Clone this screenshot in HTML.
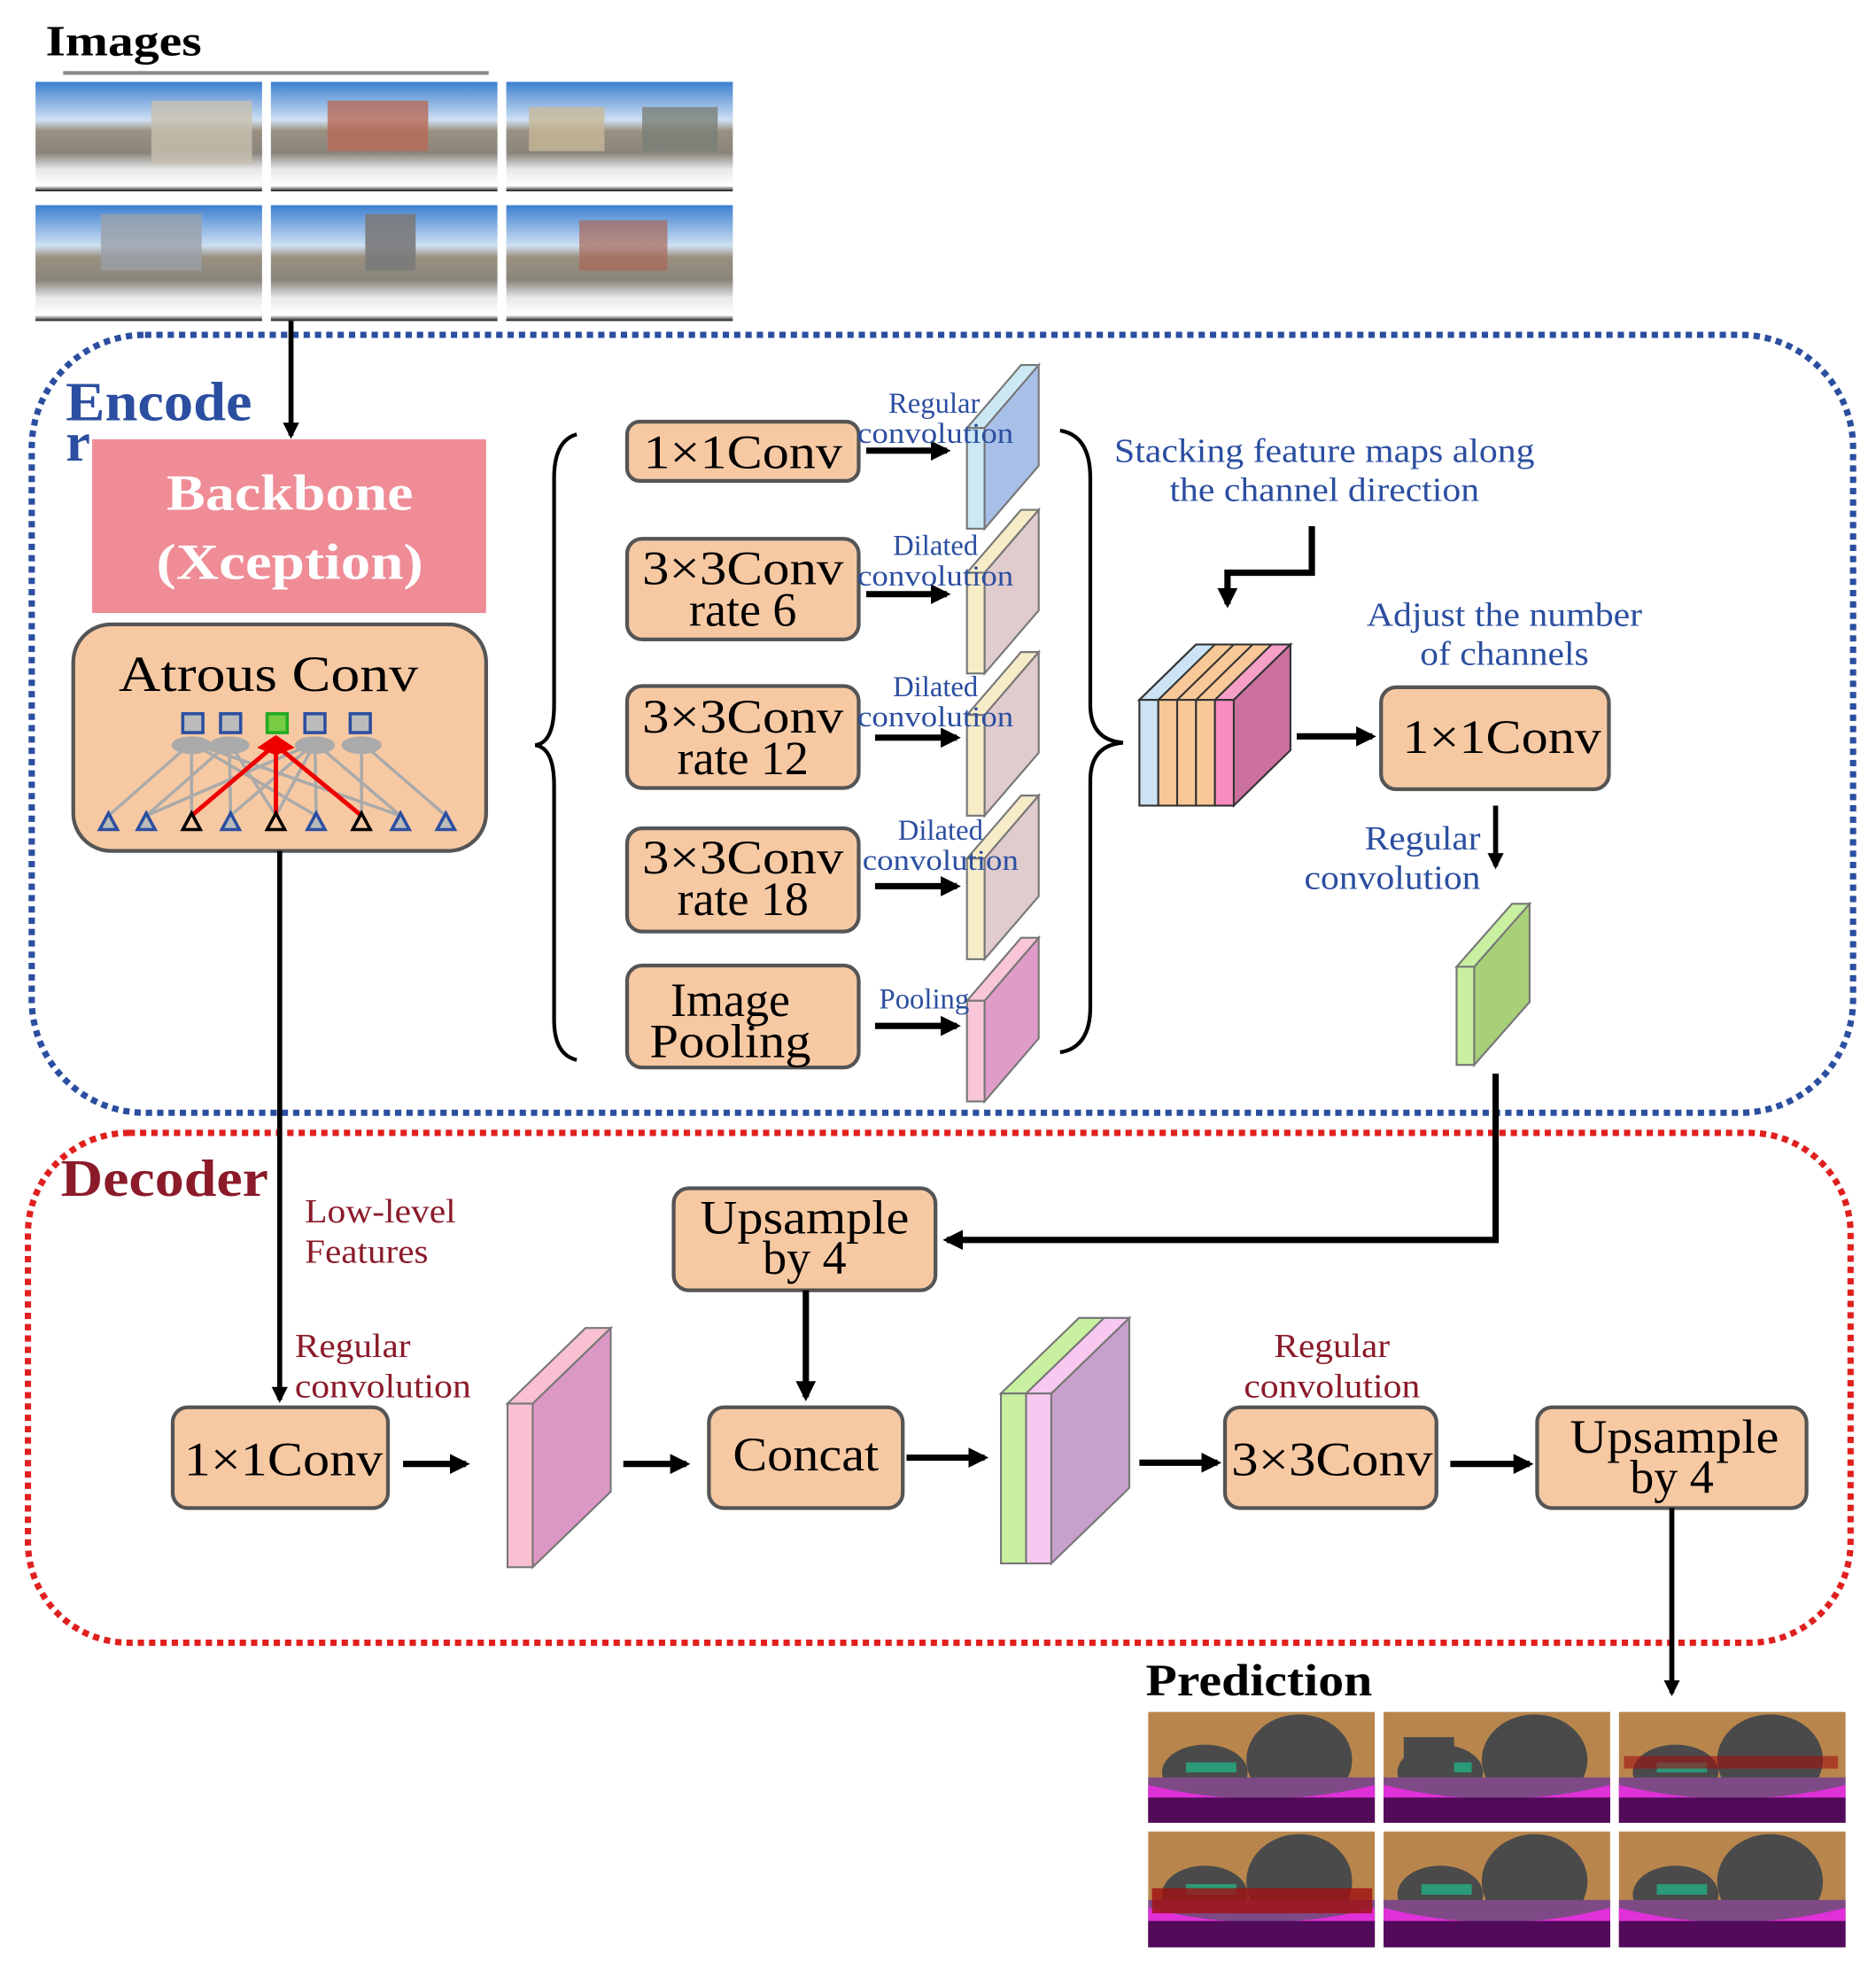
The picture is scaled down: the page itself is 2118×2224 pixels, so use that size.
<!DOCTYPE html>
<html><head><meta charset="utf-8"><style>
html,body{margin:0;padding:0;background:#fff}
svg{display:block}
text{font-family:"Liberation Serif",serif}
</style></head><body>
<svg width="2118" height="2224" viewBox="0 0 1490 1565" xmlns="http://www.w3.org/2000/svg">
<defs>
<marker id="ah" viewBox="0 0 10 10" refX="8" refY="5" markerWidth="3.2" markerHeight="3.2" orient="auto" markerUnits="strokeWidth"><path d="M0,0 L10,5 L0,10 z" fill="#000"/></marker>
<linearGradient id="sky" x1="0" y1="0" x2="0" y2="1"><stop offset="0" stop-color="#3d7fd0"/><stop offset="0.35" stop-color="#cfe0f2"/><stop offset="0.45" stop-color="#9a9080"/><stop offset="0.65" stop-color="#8a857c"/><stop offset="0.8" stop-color="#e8e8ea"/><stop offset="0.95" stop-color="#ffffff"/><stop offset="1" stop-color="#111"/></linearGradient>
<g id="seg">
<rect width="180" height="88" fill="#b8864c"/>
<ellipse cx="120" cy="38" rx="42" ry="36" fill="#4a4a4a"/>
<ellipse cx="45" cy="48" rx="34" ry="22" fill="#4a4a4a"/>
<rect x="0" y="52" width="180" height="36" fill="#7e4a86"/>
<path d="M0,58 Q90,80 180,58 L180,70 Q90,92 0,70z" fill="#e030d8"/>
<rect x="0" y="68" width="180" height="20" fill="#520a5a"/>
<rect x="30" y="40" width="40" height="8" fill="#2a9a78"/>
</g>
</defs>

<text x="36" y="44" font-size="34" font-weight="bold" textLength="124" lengthAdjust="spacingAndGlyphs">Images</text>
<line x1="50" y1="58" x2="388" y2="58" stroke="#888" stroke-width="3"/>
<g>
<rect x="28" y="65" width="180" height="87" fill="url(#sky)"/>
<rect x="215" y="65" width="180" height="87" fill="url(#sky)"/>
<rect x="402" y="65" width="180" height="87" fill="url(#sky)"/>
<rect x="28" y="163" width="180" height="92" fill="url(#sky)"/>
<rect x="215" y="163" width="180" height="92" fill="url(#sky)"/>
<rect x="402" y="163" width="180" height="92" fill="url(#sky)"/>
<rect x="120" y="80" width="80" height="50" fill="#c8c0b0" opacity="0.8"/>
<rect x="260" y="80" width="80" height="40" fill="#b86a58" opacity="0.8"/>
<rect x="420" y="85" width="60" height="35" fill="#c8b898" opacity="0.8"/>
<rect x="510" y="85" width="60" height="35" fill="#7a8078" opacity="0.8"/>
<rect x="80" y="170" width="80" height="45" fill="#9aa0a8" opacity="0.8"/>
<rect x="290" y="170" width="40" height="45" fill="#7a7a7a" opacity="0.9"/>
<rect x="460" y="175" width="70" height="40" fill="#a86858" opacity="0.7"/>
</g>

<rect x="25" y="266" width="1447" height="618" rx="90" fill="none" stroke="#2b4ea0" stroke-width="5" stroke-dasharray="5,4"/>
<text x="52" y="334" font-size="44" font-weight="bold" fill="#2b4ea0" textLength="148" lengthAdjust="spacingAndGlyphs">Encode</text>
<text x="52" y="366" font-size="44" font-weight="bold" fill="#2b4ea0">r</text>

<line x1="231" y1="255" x2="231" y2="346" stroke="#000" stroke-width="4" marker-end="url(#ah)"/>

<rect x="73" y="349" width="313" height="138" fill="#ef8c96"/>
<text x="230" y="405" font-size="40" font-weight="bold" fill="#fff" text-anchor="middle" textLength="196" lengthAdjust="spacingAndGlyphs">Backbone</text>
<text x="230" y="460" font-size="40" font-weight="bold" fill="#fff" text-anchor="middle" textLength="212" lengthAdjust="spacingAndGlyphs">(Xception)</text>

<rect x="58" y="496" width="328" height="180" rx="30" fill="#f7c9a3" stroke="#555" stroke-width="3"/>
<text x="213" y="549" font-size="40" text-anchor="middle" textLength="238" lengthAdjust="spacingAndGlyphs">Atrous Conv</text>
<g stroke="#aaa" stroke-width="2.5" fill="none">
<path d="M86,648 L152,590 M116,648 L182,590 M152,648 L152,590 M183,648 L182,590 M183,648 L250,590 M219,648 L182,590 M219,648 L250,590 M251,648 L250,590 M251,648 L152,590 M287,648 L287,590 M318,648 L250,590 M354,648 L287,590 M116,648 L250,590 M318,648 L152,590"/>
</g>
<g fill="#aaa"><ellipse cx="152" cy="592" rx="16" ry="7"/><ellipse cx="182" cy="592" rx="16" ry="7"/><ellipse cx="250" cy="592" rx="16" ry="7"/><ellipse cx="287" cy="592" rx="16" ry="7"/></g>
<g stroke="#e00" stroke-width="3.5"><line x1="152" y1="648" x2="218" y2="592"/><line x1="219" y1="648" x2="219" y2="592"/><line x1="287" y1="648" x2="219" y2="592"/></g>
<path d="M204,594 L219,584 L234,594 L219,600z" fill="#e00"/>
<g stroke="#2b4ea0" stroke-width="2.5" fill="#bbb">
<rect x="145" y="567" width="16" height="15"/><rect x="175" y="567" width="16" height="15"/><rect x="242" y="567" width="16" height="15"/><rect x="278" y="567" width="16" height="15"/>
</g>
<rect x="212" y="567" width="16" height="15" fill="#7c4" stroke="#2a2" stroke-width="2.5"/>
<g stroke="#2b4ea0" stroke-width="2.5" fill="#bbb">
<path d="M79,659 L86,646 L93,659z"/><path d="M109,659 L116,646 L123,659z"/><path d="M176,659 L183,646 L190,659z"/><path d="M244,659 L251,646 L258,659z"/><path d="M311,659 L318,646 L325,659z"/><path d="M347,659 L354,646 L361,659z"/>
</g>
<g stroke="#000" stroke-width="2.5" fill="none">
<path d="M145,659 L152,646 L159,659z"/><path d="M212,659 L219,646 L226,659z"/><path d="M280,659 L287,646 L294,659z"/>
</g>

<path d="M458,345 Q440,350 440,380 L440,560 Q440,590 425,592 Q440,594 440,624 L440,810 Q440,838 458,842" fill="none" stroke="#000" stroke-width="3"/>

<g fill="#f7c9a3" stroke="#555" stroke-width="3">
<rect x="498" y="335" width="184" height="47" rx="10"/>
<rect x="498" y="428" width="184" height="80" rx="12"/>
<rect x="498" y="545" width="184" height="81" rx="12"/>
<rect x="498" y="658" width="184" height="82" rx="12"/>
<rect x="498" y="767" width="184" height="81" rx="12"/>
</g>
<g font-size="38" text-anchor="middle" lengthAdjust="spacingAndGlyphs">
<text x="590" y="372" textLength="158" lengthAdjust="spacingAndGlyphs">1×1Conv</text>
<text x="590" y="464" textLength="160" lengthAdjust="spacingAndGlyphs">3×3Conv</text><text x="590" y="497">rate 6</text>
<text x="590" y="582" textLength="160" lengthAdjust="spacingAndGlyphs">3×3Conv</text><text x="590" y="615">rate 12</text>
<text x="590" y="694" textLength="160" lengthAdjust="spacingAndGlyphs">3×3Conv</text><text x="590" y="727">rate 18</text>
<text x="580" y="807">Image</text><text x="580" y="840" textLength="128" lengthAdjust="spacingAndGlyphs">Pooling</text>
</g>
<g stroke="#000" stroke-width="5">
<line x1="688" y1="358" x2="752" y2="358" marker-end="url(#ah)"/>
<line x1="688" y1="472" x2="752" y2="472" marker-end="url(#ah)"/>
<line x1="695" y1="586" x2="760" y2="586" marker-end="url(#ah)"/>
<line x1="695" y1="704" x2="760" y2="704" marker-end="url(#ah)"/>
<line x1="695" y1="815" x2="760" y2="815" marker-end="url(#ah)"/>
</g>

<g stroke="#777" stroke-width="1.5">
<path d="M782,340 L825,290 L825,370 L782,420z" fill="#a8c0e8"/><path d="M768,340 L811,290 L825,290 L782,340z" fill="#cce8f5"/><rect x="768" y="340" width="14" height="80" fill="#cce8f5"/>
<path d="M782,455 L825,405 L825,485 L782,535z" fill="#e0cccc"/><path d="M768,455 L811,405 L825,405 L782,455z" fill="#f7ecc8"/><rect x="768" y="455" width="14" height="80" fill="#f7ecc8"/>
<path d="M782,568 L825,518 L825,598 L782,648z" fill="#e0cccc"/><path d="M768,568 L811,518 L825,518 L782,568z" fill="#f7ecc8"/><rect x="768" y="568" width="14" height="80" fill="#f7ecc8"/>
<path d="M782,682 L825,632 L825,712 L782,762z" fill="#e0cccc"/><path d="M768,682 L811,632 L825,632 L782,682z" fill="#f7ecc8"/><rect x="768" y="682" width="14" height="80" fill="#f7ecc8"/>
<path d="M782,795 L825,745 L825,825 L782,875z" fill="#e09cc8"/><path d="M768,795 L811,745 L825,745 L782,795z" fill="#f8c6d8"/><rect x="768" y="795" width="14" height="80" fill="#f8c6d8"/>
</g>
<g font-size="23" fill="#2b4ea0" text-anchor="middle">
<text x="742" y="328">Regular</text><text x="743" y="352" textLength="124" lengthAdjust="spacingAndGlyphs">convolution</text>
<text x="743" y="441">Dilated</text><text x="743" y="465" textLength="124" lengthAdjust="spacingAndGlyphs">convolution</text>
<text x="743" y="553">Dilated</text><text x="743" y="577" textLength="124" lengthAdjust="spacingAndGlyphs">convolution</text>
<text x="747" y="667">Dilated</text><text x="747" y="691" textLength="124" lengthAdjust="spacingAndGlyphs">convolution</text>
<text x="734" y="801">Pooling</text>
</g>

<path d="M842,342 Q866,346 866,380 L866,560 Q866,588 892,590 Q866,592 866,620 L866,800 Q866,832 842,836" fill="none" stroke="#000" stroke-width="3"/>

<g font-size="27" fill="#2b4ea0" text-anchor="middle">
<text x="1052" y="367" textLength="334" lengthAdjust="spacingAndGlyphs">Stacking feature maps along</text>
<text x="1052" y="398" textLength="246" lengthAdjust="spacingAndGlyphs">the channel direction</text>
<text x="1195" y="497" textLength="219" lengthAdjust="spacingAndGlyphs">Adjust the number</text>
<text x="1195" y="528" textLength="134" lengthAdjust="spacingAndGlyphs">of channels</text>
<text x="1130" y="675" textLength="92" lengthAdjust="spacingAndGlyphs">Regular</text>
<text x="1106" y="706" textLength="140" lengthAdjust="spacingAndGlyphs">convolution</text>
</g>
<path d="M1042,418 L1042,455 L975,455 L975,480" fill="none" stroke="#000" stroke-width="5" marker-end="url(#ah)"/>

<g stroke="#333" stroke-width="1.5">
<path d="M905,556 L950,512 L1025,512 L980,556z" fill="#f9c898"/>
<path d="M905,556 L950,512 L965,512 L920,556z" fill="#cce3f3"/>
<path d="M965,556 L1010,512 L1025,512 L980,556z" fill="#f6a0c8"/>
<path d="M935,556 L980,512 M950,556 L995,512" fill="none"/>
<path d="M980,556 L1025,512 L1025,596 L980,640z" fill="#cc70a0"/>
<rect x="905" y="556" width="15" height="84" fill="#cce3f3"/>
<rect x="920" y="556" width="15" height="84" fill="#f9c898"/>
<rect x="935" y="556" width="15" height="84" fill="#f9c898"/>
<rect x="950" y="556" width="15" height="84" fill="#f9c898"/>
<rect x="965" y="556" width="15" height="84" fill="#f88cc0"/>
</g>
<line x1="1030" y1="585" x2="1090" y2="585" stroke="#000" stroke-width="5" marker-end="url(#ah)"/>
<rect x="1097" y="546" width="181" height="81" rx="12" fill="#f7c9a3" stroke="#555" stroke-width="3"/>
<text x="1193" y="598" font-size="38" text-anchor="middle" textLength="158" lengthAdjust="spacingAndGlyphs">1×1Conv</text>
<line x1="1188" y1="640" x2="1188" y2="688" stroke="#000" stroke-width="4" marker-end="url(#ah)"/>
<g stroke="#777" stroke-width="1.5">
<path d="M1171,768 L1215,718 L1215,796 L1171,846z" fill="#a8d078"/>
<path d="M1157,768 L1201,718 L1215,718 L1171,768z" fill="#c8f0a0"/>
<rect x="1157" y="768" width="14" height="78" fill="#c8f0a0"/>
</g>

<rect x="22" y="900" width="1448" height="405" rx="80" fill="none" stroke="#e0201e" stroke-width="5" stroke-dasharray="5,4"/>
<text x="48" y="950" font-size="42" font-weight="bold" fill="#8b1a2a" textLength="165" lengthAdjust="spacingAndGlyphs">Decoder</text>
<g font-size="27" fill="#8b1a2a">
<text x="242" y="971" textLength="120" lengthAdjust="spacingAndGlyphs">Low-level</text><text x="242" y="1003" textLength="98" lengthAdjust="spacingAndGlyphs">Features</text>
<text x="234" y="1078" textLength="92" lengthAdjust="spacingAndGlyphs">Regular</text><text x="234" y="1110" textLength="140" lengthAdjust="spacingAndGlyphs">convolution</text>
<text x="1058" y="1078" text-anchor="middle" textLength="92" lengthAdjust="spacingAndGlyphs">Regular</text><text x="1058" y="1110" text-anchor="middle" textLength="140" lengthAdjust="spacingAndGlyphs">convolution</text>
</g>

<line x1="222" y1="676" x2="222" y2="1112" stroke="#000" stroke-width="4" marker-end="url(#ah)"/>
<path d="M1188,853 L1188,985 L752,985" fill="none" stroke="#000" stroke-width="5" marker-end="url(#ah)"/>

<g fill="#f7c9a3" stroke="#555" stroke-width="3">
<rect x="535" y="944" width="208" height="81" rx="12"/>
<rect x="137" y="1118" width="171" height="80" rx="12"/>
<rect x="563" y="1118" width="154" height="80" rx="12"/>
<rect x="973" y="1118" width="168" height="80" rx="12"/>
<rect x="1221" y="1118" width="214" height="80" rx="12"/>
</g>
<g font-size="38" text-anchor="middle">
<text x="639" y="980" textLength="166" lengthAdjust="spacingAndGlyphs">Upsample</text><text x="639" y="1012">by 4</text>
<text x="225" y="1172" textLength="158" lengthAdjust="spacingAndGlyphs">1×1Conv</text>
<text x="640" y="1168" textLength="116" lengthAdjust="spacingAndGlyphs">Concat</text>
<text x="1058" y="1172" textLength="160" lengthAdjust="spacingAndGlyphs">3×3Conv</text>
<text x="1330" y="1154" textLength="166" lengthAdjust="spacingAndGlyphs">Upsample</text><text x="1328" y="1186">by 4</text>
</g>

<g stroke="#000" stroke-width="5">
<line x1="640" y1="1025" x2="640" y2="1110" marker-end="url(#ah)"/>
<line x1="320" y1="1163" x2="370" y2="1163" marker-end="url(#ah)"/>
<line x1="495" y1="1163" x2="545" y2="1163" marker-end="url(#ah)"/>
<line x1="720" y1="1158" x2="782" y2="1158" marker-end="url(#ah)"/>
<line x1="905" y1="1162" x2="967" y2="1162" marker-end="url(#ah)"/>
<line x1="1152" y1="1163" x2="1215" y2="1163" marker-end="url(#ah)"/>
</g>
<line x1="1328" y1="1198" x2="1328" y2="1345" stroke="#000" stroke-width="4" marker-end="url(#ah)"/>

<g stroke="#777" stroke-width="1.5">
<path d="M423,1115 L485,1055 L485,1185 L423,1245z" fill="#dc98c4"/>
<path d="M403,1115 L465,1055 L485,1055 L423,1115z" fill="#f8c0d0"/>
<rect x="403" y="1115" width="20" height="130" fill="#f8c0d0"/>
<path d="M835,1107 L897,1047 L897,1182 L835,1242z" fill="#c8a0cc"/>
<path d="M795,1107 L857,1047 L877,1047 L815,1107z" fill="#c8f0a0"/>
<path d="M815,1107 L877,1047 L897,1047 L835,1107z" fill="#f8c8f0"/>
<rect x="795" y="1107" width="20" height="135" fill="#c8f0a0"/>
<rect x="815" y="1107" width="20" height="135" fill="#f8c8f0"/>
</g>

<text x="910" y="1347" font-size="36" font-weight="bold" textLength="180" lengthAdjust="spacingAndGlyphs">Prediction</text>
<use href="#seg" x="912" y="1360"/>
<use href="#seg" x="1099" y="1360"/>
<use href="#seg" x="1286" y="1360"/>
<use href="#seg" transform="translate(912,1455) scale(1,1.045)"/>
<use href="#seg" transform="translate(1099,1455) scale(1,1.045)"/>
<use href="#seg" transform="translate(1286,1455) scale(1,1.045)"/>
<rect x="915" y="1500" width="175" height="20" fill="#a01010" opacity="0.8"/>
<rect x="1290" y="1395" width="170" height="10" fill="#a01010" opacity="0.6"/>
<rect x="1115" y="1380" width="40" height="28" fill="#4a4a4a"/>
</svg>
</body></html>
